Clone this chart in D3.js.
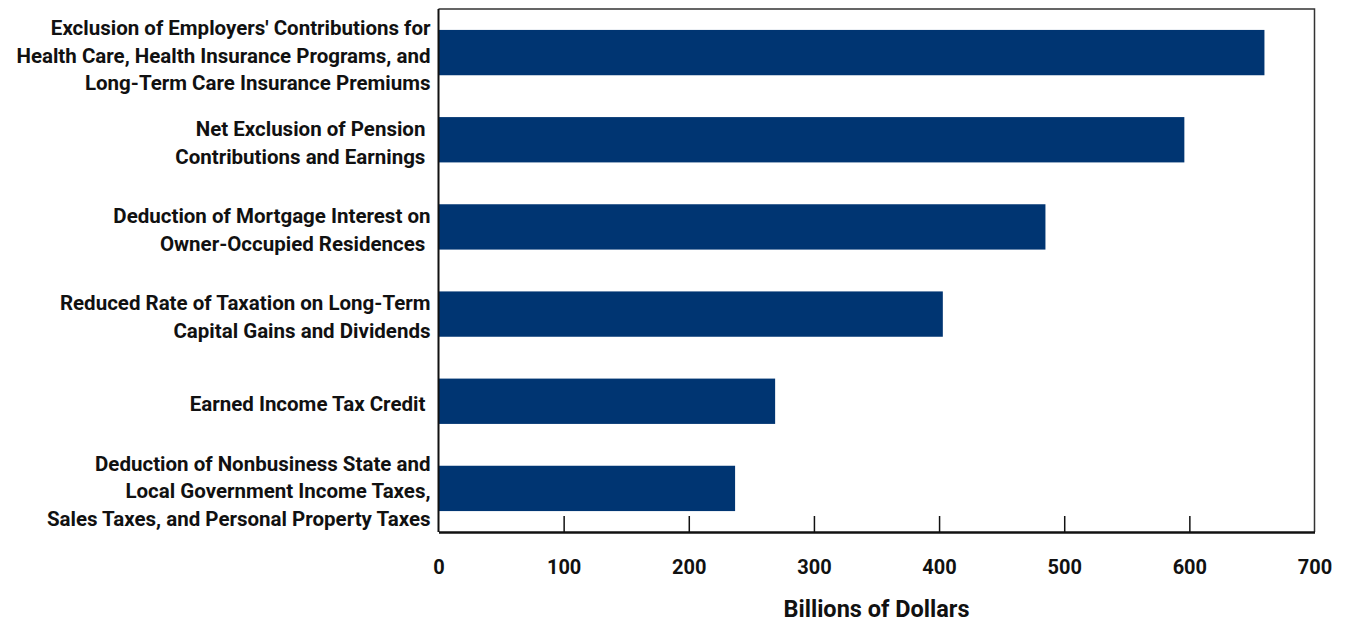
<!DOCTYPE html>
<html>
<head>
<meta charset="utf-8">
<script src="https://cdn.jsdelivr.net/npm/d3@7"></script>
<style>
  body { margin: 0; background: #fff; }
  text { font-family: Roboto, "Noto Sans", sans-serif; font-weight: bold; fill: #111; white-space: pre; }
</style>
</head>
<body>
<svg id="chart"></svg>
<script>
// categories (each label split into its lines), top to bottom
var categories = [
  ["Exclusion of Employers' Contributions for", "Health Care, Health Insurance Programs, and", "Long-Term Care Insurance Premiums"],
  ["Net Exclusion of Pension ", "Contributions and Earnings "],
  ["Deduction of Mortgage Interest on", "Owner-Occupied Residences "],
  ["Reduced Rate of Taxation on Long-Term", "Capital Gains and Dividends"],
  ["Earned Income Tax Credit "],
  ["Deduction of Nonbusiness State and", "Local Government Income Taxes,", "Sales Taxes, and Personal Property Taxes"]
];
var values = [660, 596, 485, 403, 269, 237];
var tickValues = [0, 100, 200, 300, 400, 500, 600, 700];
var axisTitle = "Billions of Dollars";

var screen = { width: 1345, height: 622 };
var margins = { top: 9, bottom: 90, left: 438.5, right: 30.5 };

var drawBarChart = function(svgSelector)
{
  var graphWidth = screen.width - margins.left - margins.right;
  var graphHeight = screen.height - margins.top - margins.bottom;

  var svg = d3.select(svgSelector)
              .attr("width", screen.width)
              .attr("height", screen.height);

  var xScale = d3.scaleLinear()
                 .domain([0, 700])
                 .range([0, graphWidth]);

  var yScale = d3.scaleBand()
                 .domain(d3.range(categories.length))
                 .range([0, graphHeight])
                 .paddingInner(0.48)
                 .paddingOuter(0.24);

  var g = svg.append("g")
             .attr("transform", "translate(" + margins.left + "," + margins.top + ")");

  // frame top / right
  g.append("path")
   .attr("d", "M0,0H" + graphWidth + "V" + graphHeight)
   .attr("fill", "none")
   .style("stroke", "#333")
   .style("stroke-width", 1.5);

  g.selectAll("rect.bar")
   .data(values)
   .enter()
   .append("rect")
   .classed("bar", true)
   .attr("x", 0)
   .attr("y", function(d, i){ return yScale(i); })
   .attr("width", function(d){ return xScale(d); })
   .attr("height", yScale.bandwidth())
   .attr("fill", "#003572");

  // bottom axis: ticks pointing inward
  var xAxis = d3.axisBottom(xScale)
                .tickValues(tickValues)
                .tickSize(-16)
                .tickSizeOuter(0)
                .tickPadding(28);

  var axisG = g.append("g")
               .attr("transform", "translate(0," + graphHeight + ")")
               .call(xAxis);
  axisG.select(".domain").style("stroke", "#111").style("stroke-width", 2.5);
  axisG.selectAll(".tick line").style("stroke", "#111").style("stroke-width", 1.5);
  axisG.selectAll(".tick").filter(function(d){ return d === 0 || d === 700; }).select("line").remove();
  axisG.selectAll(".tick text")
       .attr("font-size", 20)
       .style("font-family", "Roboto, sans-serif")
       .style("font-weight", "bold")
       .attr("fill", "#111");

  // left axis line
  g.append("line")
   .attr("x1", 0).attr("x2", 0)
   .attr("y1", 0).attr("y2", graphHeight)
   .style("stroke", "#111")
   .style("stroke-width", 2);

  // category labels
  var lineHeight = 27.5;
  var labels = g.selectAll("text.cat")
                .data(categories)
                .enter()
                .append("text")
                .classed("cat", true)
                .attr("text-anchor", "end")
                .attr("font-size", 20.5)
                .attr("y", function(d, i){ return yScale(i) + yScale.bandwidth() / 2; });

  labels.selectAll("tspan")
        .data(function(d){ return d.map(function(line, j){ return { line: line, j: j, n: d.length }; }); })
        .enter()
        .append("tspan")
        .attr("x", -8)
        .attr("dy", function(t){ return t.j === 0 ? (-(t.n - 1) / 2 * lineHeight + 10) : lineHeight; })
        .text(function(t){ return t.line; });

  svg.append("text")
     .text(axisTitle)
     .attr("text-anchor", "middle")
     .attr("x", margins.left + graphWidth / 2)
     .attr("y", 617)
     .attr("font-size", 23.5);
};

drawBarChart("#chart");
</script>
</body>
</html>
